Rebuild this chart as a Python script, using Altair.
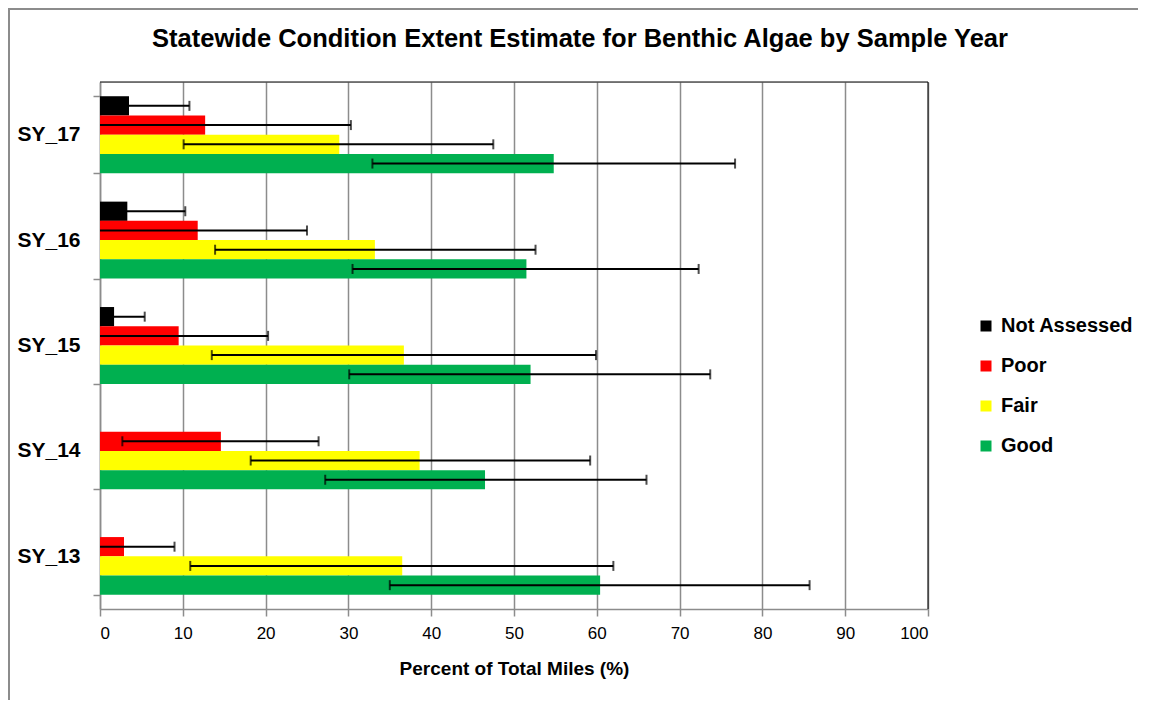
import altair as alt
import pandas as pd

title_text = ["Statewide Condition Extent Estimate for Benthic Algae by Sample Year"]
years = ["SY_17", "SY_16", "SY_15", "SY_14", "SY_13"]
conditions = ["Not Assessed", "Poor", "Fair", "Good"]
colors = ["#000000", "#FF0000", "#FFFF00", "#00B050"]

not_assessed = [3.5, 3.3, 1.7, None, None]
not_assessed_lo = [0, 0, 0, None, None]
not_assessed_hi = [10.8, 10.3, 5.4, None, None]

poor = [12.7, 11.8, 9.5, 14.6, 2.9]
poor_lo = [0, 0, 0, 2.7, 0]
poor_hi = [30.3, 25.0, 20.3, 26.4, 9.0]

fair = [28.9, 33.2, 36.7, 38.6, 36.5]
fair_lo = [10.1, 13.9, 13.5, 18.2, 10.9]
fair_hi = [47.5, 52.6, 59.9, 59.2, 62.0]

good = [54.8, 51.5, 52.0, 46.5, 60.4]
good_lo = [32.9, 30.5, 30.1, 27.2, 35.0]
good_hi = [76.7, 72.3, 73.7, 66.0, 85.7]

series = {
    "Not Assessed": (not_assessed, not_assessed_lo, not_assessed_hi),
    "Poor": (poor, poor_lo, poor_hi),
    "Fair": (fair, fair_lo, fair_hi),
    "Good": (good, good_lo, good_hi),
}

rows = []
for cond, (vals, los, his) in series.items():
    for yr, v, lo, hi in zip(years, vals, los, his):
        if v is None:
            continue
        rows.append({"Year": yr, "Condition": cond, "Value": v, "lo": lo, "hi": hi})
df = pd.DataFrame(rows)

FONT = "Liberation Sans"
GRAY = "#8c8c8c"
W, H = 828, 527

y_enc = alt.Y(
    "Year:N",
    sort=years,
    scale=alt.Scale(paddingInner=0.27, paddingOuter=0.135),
    axis=alt.Axis(
        title=None,
        labelFont=FONT,
        labelFontSize=21,
        labelFontWeight="bold",
        labelColor="#000000",
        labelPadding=13,
        tickBand="extent",
        tickSize=7,
        tickColor=GRAY,
        tickWidth=1.5,
        domainColor=GRAY,
        domainWidth=1.5,
        grid=False,
    ),
)
yoff = alt.YOffset("Condition:N", sort=conditions,
                   scale=alt.Scale(paddingInner=0, paddingOuter=0))

x_axis = alt.Axis(
    values=list(range(0, 101, 10)),
    grid=True,
    gridColor=GRAY,
    gridWidth=1.5,
    tickSize=7,
    tickColor=GRAY,
    tickWidth=1.5,
    domainColor=GRAY,
    domainWidth=1.5,
    labelFont=FONT,
    labelFontSize=17,
    labelColor="#000000",
    labelPadding=9,
    title="Percent of Total Miles (%)",
    titleFont=FONT,
    titleFontSize=19,
    titleFontWeight="bold",
    titleColor="#000000",
    titlePadding=18,
)

base = alt.Chart(df)

bars = base.mark_bar().encode(
    x=alt.X("Value:Q", scale=alt.Scale(domain=[0, 100], nice=False), axis=x_axis),
    y=y_enc,
    yOffset=yoff,
    color=alt.Color(
        "Condition:N",
        scale=alt.Scale(domain=conditions, range=colors),
        legend=alt.Legend(
            title=None,
            orient="none",
            legendX=876,
            legendY=234,
            symbolType="square",
            symbolSize=121,
            symbolStrokeWidth=0,
            labelFont=FONT,
            labelFontSize=20,
            labelFontWeight="bold",
            labelColor="#000000",
            labelOffset=5,
            rowPadding=20,
            padding=0,
        ),
    ),
)

rules = base.mark_rule(color="#000000", strokeWidth=2).encode(
    x="lo:Q", x2="hi:Q", y=y_enc, yOffset=yoff
)
caps_hi = base.mark_tick(color="#000000", thickness=2, size=10, orient="vertical").encode(
    x="hi:Q", y=y_enc, yOffset=yoff
)
caps_lo = base.transform_filter(alt.datum.lo > 0).mark_tick(
    color="#000000", thickness=2, size=10, orient="vertical"
).encode(x="lo:Q", y=y_enc, yOffset=yoff)

frame_df = pd.DataFrame({"k": [0]})
frame = alt.Chart(frame_df).mark_rect(fillOpacity=0, stroke=GRAY, strokeWidth=2).encode(
    x=alt.value(-91), x2=alt.value(1200), y=alt.value(-73), y2=alt.value(800)
)
top_line = alt.Chart(frame_df).mark_rule(color="#000000", strokeWidth=1).encode(
    x=alt.value(0), x2=alt.value(W), y=alt.value(0)
)
right_line = alt.Chart(frame_df).mark_rule(color="#000000", strokeWidth=1).encode(
    x=alt.value(W), y=alt.value(0), y2=alt.value(H)
)
title = alt.Chart(pd.DataFrame({"t": title_text})).mark_text(
    font=FONT, fontSize=25.5, fontWeight="bold", color="#000000",
    align="center", baseline="alphabetic",
).encode(text="t:N", x=alt.value(480), y=alt.value(-35))

chart = alt.layer(frame, bars, rules, caps_hi, caps_lo, top_line, right_line, title).properties(
    width=W,
    height=H,
    autosize=alt.AutoSizeParams(type="none"),
    padding={"left": 92, "top": 74, "right": 210, "bottom": 91},
).configure_view(stroke=None).configure(background="white")

chart.save("out.html", embed_options={"renderer": "svg", "actions": False})
